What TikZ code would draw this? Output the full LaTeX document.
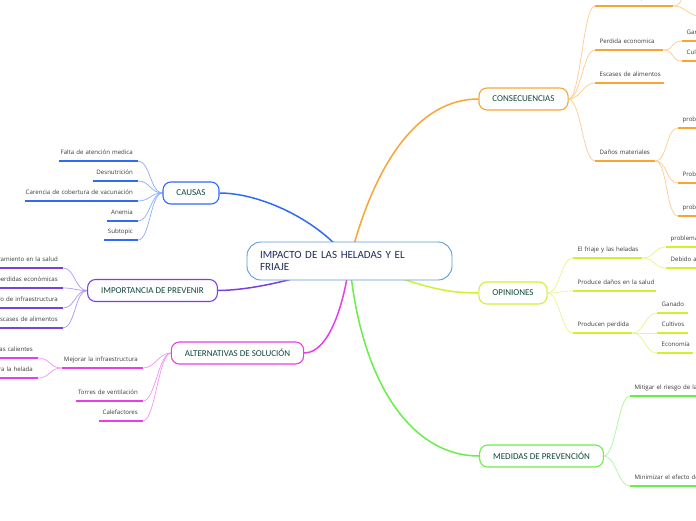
\documentclass[tikz,border=0pt]{standalone}
\usepackage{fontspec}
\setmainfont{Open Sans}
\newfontfamily\carl{Carlito}
\usetikzlibrary{backgrounds}
\definecolor{cblue}{HTML}{2F6BF5}
\definecolor{cpurple}{HTML}{7B3FE4}
\definecolor{cmagenta}{HTML}{E83DE8}
\definecolor{corange}{HTML}{F8A533}
\definecolor{clime}{HTML}{D0F032}
\definecolor{cgreen}{HTML}{6AEE48}
\definecolor{rootline}{HTML}{5B9BD5}
\definecolor{roottxt}{HTML}{1F2B5C}
\definecolor{topictxt}{HTML}{12473A}
\definecolor{subtxt}{HTML}{3A3A3A}
\begin{document}
\begin{tikzpicture}[x=1pt, y=-1pt, line join=round, line cap=round,
  rootbox/.style={draw=rootline, fill=white, rounded corners=14pt, line width=0.9pt, minimum width=205pt, minimum height=38pt, text width=179pt, align=left, text=roottxt, font=\carl\fontsize{11}{12.5}\selectfont},
  topic/.style={draw=#1, fill=white, rounded corners=8pt, line width=1.1pt, minimum height=22pt, inner xsep=13.5pt, text=topictxt, font=\carl\fontsize{9}{11}\selectfont},
  subbase/.style={inner ysep=6pt, text depth=0pt, text=subtxt, font=\fontsize{6.1}{7}\selectfont,
    append after command={(\tikzlastnode.south west) edge[draw=#1, line width=1.8pt, line cap=butt] (\tikzlastnode.south east)}},
  subr/.style={subbase=#1, anchor=south west, inner xsep=4.5pt,
    execute at begin node={\hbox to\hsize\bgroup}, execute at end node={\hss\egroup}},
  subl/.style={subbase=#1, anchor=south east, inner xsep=5pt,
    execute at begin node={\hbox to\hsize\bgroup\hss}, execute at end node={\egroup}},
  mainlink/.style={draw=#1, line width=1.5pt},
  rlink/.style={draw=#1!55, line width=0.7pt, to path={.. controls +(12,0) and +(-12,0) .. (\tikztotarget)}},
  llink/.style={draw=#1!55, line width=0.7pt, to path={.. controls +(-12,0) and +(12,0) .. (\tikztotarget)}}]
\useasboundingbox (0,0) rectangle (696,520);

% centre and main topics
\node[rootbox] (root) at (349.5,261) {IMPACTO DE LAS HELADAS Y EL\\FRIAJE};
\node[topic=corange] (cons) at (523.5,99) {CONSECUENCIAS};
\node[topic=clime] (opin) at (513,293) {OPINIONES};
\node[topic=cgreen] (medi) at (541.5,456) {MEDIDAS DE PREVENCIÓN};
\node[topic=cblue] (caus) at (191,193) {CAUSAS};
\node[topic=cpurple] (impo) at (152.5,290.5) {IMPORTANCIA DE PREVENIR};
\node[topic=cmagenta] (alte) at (237.5,353) {ALTERNATIVAS DE SOLUCIÓN};

% consecuencias
\node[subr=corange, text width=69pt] (c1) at (595,6) {Afecciones respiratorias};
\node[subr=corange, text width=59pt] (c2) at (595,50) {Perdida economica};
\node[subr=corange, text width=31pt] (c21) at (682,41) {Ganado};
\node[subr=corange, text width=31pt] (c22) at (682,61) {Cultivos};
\node[subr=corange, text width=60pt] (c3) at (595,83) {Escases de alimentos};
\node[subr=corange, text width=51pt] (c4) at (595,161) {Daños materiales};
\node[subr=corange, text width=91pt] (c41) at (678,128) {problemas en viviendas};
\node[subr=corange, text width=91pt] (c42) at (678,183) {Problemas en la agricultura};
\node[subr=corange, text width=91pt] (c43) at (678,216) {problemas en carreteras};
\coordinate (c1a) at (692,-14);
\coordinate (c1b) at (700,16);

% opiniones
\node[subr=clime, text width=60pt] (o1) at (573,258) {El friaje y las heladas};
\node[subr=clime, text width=91pt] (o11) at (666,247) {problemáticas en la salud};
\node[subr=clime, text width=111pt] (o12) at (666,268) {Debido a las bajas temperaturas};
\node[subr=clime, text width=74pt] (o2) at (573,291) {Produce daños en la salud};
\node[subr=clime, text width=50pt] (o3) at (573,333) {Producen perdida};
\node[subr=clime, text width=22pt] (o31) at (657,313) {Ganado};
\node[subr=clime, text width=22pt] (o32) at (657,333) {Cultivos};
\node[subr=clime, text width=27pt] (o33) at (657,353) {Economía};

% medidas
\node[subr=cgreen, text width=111pt] (m1) at (630,396) {Mitigar el riesgo de las heladas};
\node[subr=cgreen, text width=111pt] (m2) at (630,486) {Minimizar el efecto de las heladas};

% causas
\node[subl=cblue, text width=69pt] (a1) at (138,161) {Falta de atención medica};
\node[subl=cblue, text width=35pt] (a2) at (138,181) {Desnutrición};
\node[subl=cblue, text width=103pt] (a3) at (138,201) {Carencia de cobertura de vacunación};
\node[subl=cblue, text width=21pt] (a4) at (138,221) {Anemia};
\node[subl=cblue, text width=24pt] (a5) at (138,240) {Subtopic};

% importancia
\node[subl=cpurple, text width=110pt] (i1) at (63,268) {Mejoramiento en la salud};
\node[subl=cpurple, text width=110pt] (i2) at (63,288) {Evitar perdidas económicas};
\node[subl=cpurple, text width=110pt] (i3) at (63,308) {Deterioro de infraestructura};
\node[subl=cpurple, text width=110pt] (i4) at (63,328) {Escases de alimentos};

% alternativas
\node[subl=cmagenta, text width=71pt] (l1) at (143,368) {Mejorar la infraestructura};
\node[subl=cmagenta, text width=90pt] (l11) at (38,358) {Viviendas calientes};
\node[subl=cmagenta, text width=90pt] (l12) at (38,378) {Protección para la helada};
\node[subl=cmagenta, text width=57pt] (l2) at (143,401) {Torres de ventilación};
\node[subl=cmagenta, text width=34pt] (l3) at (143,421) {Calefactores};

\begin{scope}[on background layer]
\fill[white] (0,0) rectangle (696,520);
\draw[mainlink=corange] (root.center) .. controls (375,160) and (420,99) .. (cons.west);
\draw[mainlink=clime] (root.center) .. controls (420,285) and (440,293) .. (opin.west);
\draw[mainlink=cgreen] (root.center) .. controls (360,380) and (410,456) .. (medi.west);
\draw[mainlink=cblue] (root.center) .. controls (320,220) and (260,193) .. (caus.east);
\draw[mainlink=cpurple] (root.center) .. controls (310,275) and (260,290) .. (impo.east);
\draw[mainlink=cmagenta] (root.center) .. controls (345,300) and (330,353) .. (alte.east);
\foreach \n in {c1,c2,c3,c4} \draw[rlink=corange] (cons.east) to (\n.south west);
\foreach \n in {c21,c22} \draw[rlink=corange] (c2.south east) to (\n.south west);
\foreach \n in {c41,c42,c43} \draw[rlink=corange] (c4.south east) to (\n.south west);
\foreach \n in {c1a,c1b} \draw[rlink=corange] (c1.south east) to (\n);
\foreach \n in {o1,o2,o3} \draw[rlink=clime] (opin.east) to (\n.south west);
\foreach \n in {o11,o12} \draw[rlink=clime] (o1.south east) to (\n.south west);
\foreach \n in {o31,o32,o33} \draw[rlink=clime] (o3.south east) to (\n.south west);
\foreach \n in {m1,m2} \draw[rlink=cgreen] (medi.east) to (\n.south west);
\foreach \n in {a1,a2,a3,a4,a5} \draw[llink=cblue] (caus.west) to (\n.south east);
\foreach \n in {i1,i2,i3,i4} \draw[llink=cpurple] (impo.west) to (\n.south east);
\foreach \n in {l1,l2,l3} \draw[llink=cmagenta] (alte.west) to (\n.south east);
\foreach \n in {l11,l12} \draw[llink=cmagenta] (l1.south west) to (\n.south east);
\end{scope}
\end{tikzpicture}
\end{document}
